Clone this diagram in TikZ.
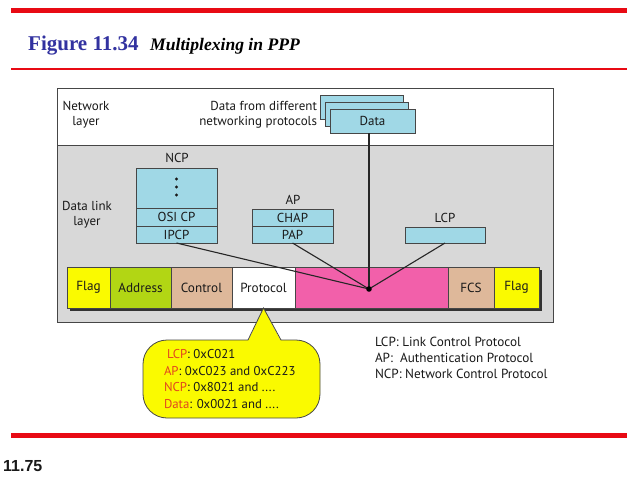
\documentclass[tikz,border=0pt]{standalone}
\usepackage{fontspec}
\setmainfont{Liberation Serif}
\newfontfamily\dfont{PT Sans}
\newfontfamily\hfont{Liberation Sans}
\definecolor{redline}{RGB}{232,10,20}
\definecolor{titleblue}{RGB}{50,50,160}
\definecolor{boxblue}{RGB}{160,216,230}
\definecolor{layergray}{RGB}{216,216,216}
\definecolor{flagyellow}{RGB}{250,250,0}
\definecolor{addrgreen}{RGB}{178,214,20}
\definecolor{ctrltan}{RGB}{222,184,154}
\definecolor{datapink}{RGB}{242,96,170}
\definecolor{lblred}{RGB}{226,70,30}
\definecolor{edgegray}{RGB}{70,70,70}
\definecolor{txtdark}{RGB}{25,25,25}
\tikzset{
  bluebox/.style={draw=edgegray, fill=boxblue, line width=0.9pt, inner sep=0pt, outer sep=0pt,
    minimum width=81pt, text=txtdark, font=\dfont\fontsize{13}{15}\selectfont},
  field/.style={draw=edgegray, line width=0.7pt, inner sep=0pt, outer sep=0pt,
    minimum height=41pt, anchor=north west, text=txtdark, font=\dfont\fontsize{13.2}{15}\selectfont},
  lbl/.style={inner sep=0pt, outer sep=0pt, text=txtdark, font=\dfont\fontsize{13}{15}\selectfont},
  wire/.style={line width=1.1pt, draw=black!85},
  rule/.style={draw=redline, line cap=butt}
}
\begin{document}
\begin{tikzpicture}[x=1pt,y=-1pt]
\useasboundingbox[fill=white] (0,0) rectangle (638,479);
% red rules
\draw[rule, line width=5pt] (11,10.5) -- (627,10.5);
\draw[rule, line width=1.3pt] (11,69) -- (627,69);
\draw[rule, line width=5pt] (11,435.5) -- (627,435.5);
% title
\node[anchor=base west, inner sep=0pt, text=titleblue, font=\bfseries\fontsize{21}{24}\selectfont] (fig) at (28,50) {Figure 11.34};
\node[anchor=base west, inner sep=0pt, font=\bfseries\itshape\fontsize{17.6}{20}\selectfont] (cap) at (150,50) {Multiplexing in PPP};
\node[anchor=base west, inner sep=0pt, text=txtdark, font=\hfont\bfseries\fontsize{16}{19}\selectfont] (pg) at (3,471) {11.75};
% layers
\draw[draw=edgegray, line width=0.9pt, fill=white] (57,88) rectangle (553,322);
\draw[draw=edgegray, line width=0.9pt, fill=layergray] (57,145) rectangle (553,322);
\node[lbl, align=center] (netlayer) at (86,114.5) {Network\\layer};
\node[lbl, align=center] (dllayer) at (87,214.5) {Data link\\layer};
\node[lbl, align=right, anchor=east] (dfd) at (317,114.5) {Data from different\\networking protocols};
% data boxes
\node[bluebox, minimum width=83pt, minimum height=24pt, anchor=north west] (data3) at (320,95) {};
\node[bluebox, minimum width=83pt, minimum height=24pt, anchor=north west] (data2) at (325,102) {};
\node[bluebox, minimum width=85pt, minimum height=24pt, anchor=north west] (data) at (330,109) {Data};
% NCP
\node[lbl] (ncplbl) at (177,158) {NCP};
\node[bluebox, minimum height=40pt, anchor=north west] (ncpdots) at (136,168) {};
\node[bluebox, minimum height=18pt, anchor=north west] (osicp) at (ncpdots.south west) {OSI CP};
\node[bluebox, minimum height=17pt, anchor=north west] (ipcp) at (osicp.south west) {IPCP};
\foreach \yy in {179,187,195} \fill[txtdark] (ncpdots.center |- 0,\yy) circle (1.7pt);
% AP
\node[lbl] (aplbl) at (293,200) {AP};
\node[bluebox, minimum height=17pt, anchor=north west] (chap) at (252,209) {CHAP};
\node[bluebox, minimum height=17pt, anchor=north west] (pap) at (chap.south west) {PAP};
% LCP
\node[lbl] (lcplbl) at (445,218) {LCP};
\node[bluebox, minimum width=80pt, minimum height=16pt, anchor=north west] (lcp) at (405,227) {};
% frame shadow
\fill[black!80] (69.5,270) rectangle (541.5,311);
% frame fields
\node[field, fill=flagyellow, minimum width=43pt] (flag1) at (67,267) {Flag};
\node[field, fill=addrgreen, minimum width=61pt] (addr) at (flag1.north east) {Address};
\node[field, fill=ctrltan, minimum width=61pt] (ctrl) at (addr.north east) {Control};
\node[field, fill=white, minimum width=63pt] (proto) at (ctrl.north east) {Protocol};
\node[field, fill=datapink, minimum width=153pt] (payload) at (proto.north east) {};
\node[field, fill=ctrltan, minimum width=46pt] (fcs) at (payload.north east) {FCS};
\node[field, fill=flagyellow, minimum width=45pt] (flag2) at (fcs.north east) {Flag};
% multiplexing lines
\coordinate (mux) at (369,289);
\draw[wire] (ipcp.south) -- (mux);
\draw[wire] (pap.south) -- (mux);
\draw[wire] (lcp.south) -- (mux);
\draw[wire] (mux |- data.south) -- (mux);
\fill[black] (mux) circle (2.8pt);
% callout
\node[draw=edgegray, line width=0.8pt, fill=flagyellow, rounded corners=24pt,
  minimum width=177pt, minimum height=78pt, inner sep=0pt, outer sep=0pt, anchor=north west] (callout) at (143,340) {};
\fill[flagyellow] ([xshift=105pt,yshift=-1.2pt]callout.north west) -- (proto.south) -- ([xshift=138pt,yshift=-1.2pt]callout.north west) -- cycle;
\draw[draw=edgegray, line width=0.8pt, line join=miter] ([xshift=105pt]callout.north west) -- (proto.south) -- ([xshift=138pt]callout.north west);
\node[lbl, align=left, anchor=west, font=\dfont\fontsize{12.8}{16.7}\selectfont] (codes) at (164,379)
  {\hspace*{3pt}\textcolor{lblred}{LCP}: 0xC021\\
   \textcolor{lblred}{AP}: 0xC023 and 0xC223\\
   \textcolor{lblred}{NCP}: 0x8021 and ....\\
   \textcolor{lblred}{Data}: 0x0021 and ....};
% legend
\node[lbl, align=left, anchor=west, font=\dfont\fontsize{13.2}{16}\selectfont] (legend) at (375,358)
  {LCP: Link Control Protocol\\
   AP:\ \ Authentication Protocol\\
   NCP: Network Control Protocol};
\end{tikzpicture}
\end{document}
